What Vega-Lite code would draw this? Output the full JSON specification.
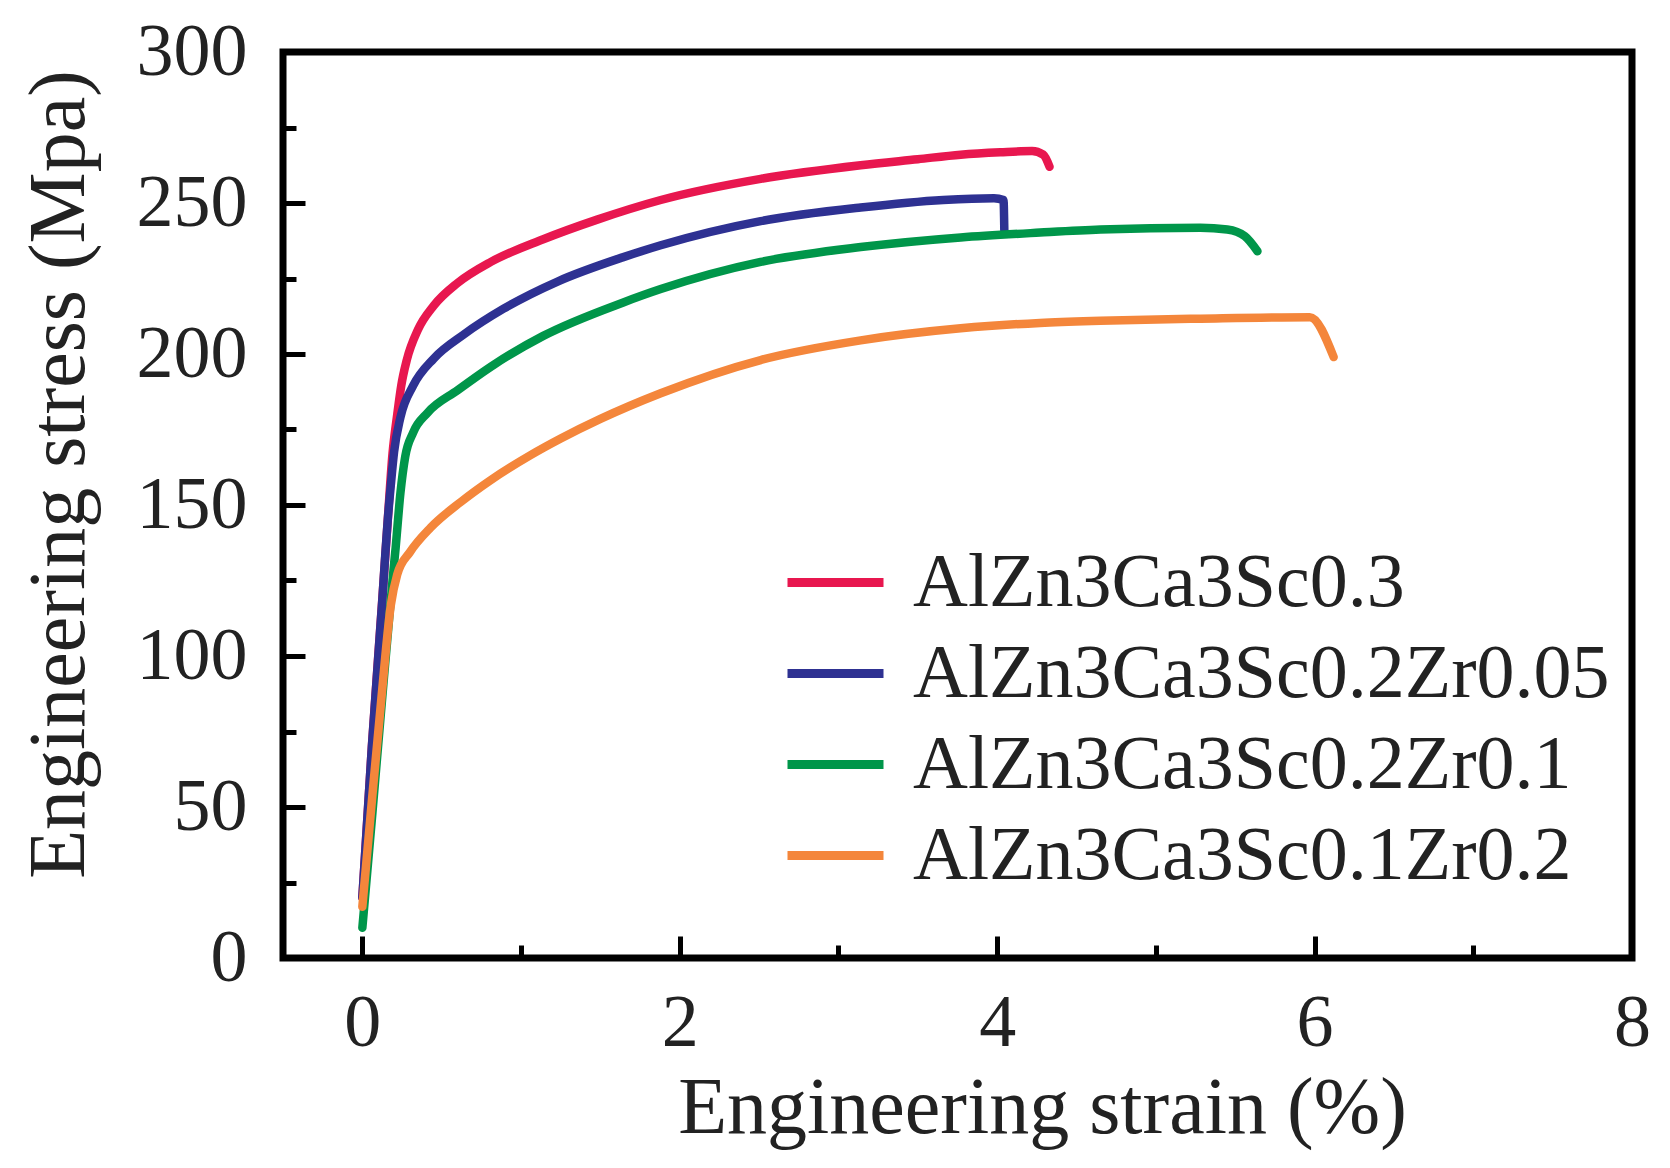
{
  "$schema": "https://vega.github.io/schema/vega-lite/v6.json",
  "width": 1349,
  "height": 906,
  "autosize": {"type": "none"},
  "padding": {"left": 283, "top": 52, "right": 38, "bottom": 210},
  "background": "white",
  "config": {
    "view": {"stroke": "#000000", "strokeWidth": 7},
    "axis": {
      "domain": false,
      "grid": false,
      "tickColor": "#000000",
      "tickWidth": 5,
      "labelFont": "Liberation Serif",
      "labelFontSize": 74,
      "labelColor": "#222222",
      "labelFlush": false,
      "labelOverlap": false,
      "labelBound": false,
      "titleFont": "Liberation Serif",
      "titleFontSize": 80,
      "titleFontWeight": "normal",
      "titleColor": "#222222"
    },
    "legend": {
      "orient": "none",
      "legendX": 500,
      "legendY": 478,
      "padding": 0,
      "symbolType": "stroke",
      "symbolSize": 9216,
      "symbolStrokeWidth": 9,
      "labelFont": "Liberation Serif",
      "labelFontSize": 76,
      "labelColor": "#222222",
      "labelOffset": 25,
      "labelLimit": 0,
      "rowPadding": -12.5
    }
  },
  "data": {
    "values": [
      {"alloy": "AlZn3Ca3Sc0.3", "strain": 0.0, "stress": 20},
      {"alloy": "AlZn3Ca3Sc0.3", "strain": 0.06, "stress": 70},
      {"alloy": "AlZn3Ca3Sc0.3", "strain": 0.126, "stress": 119},
      {"alloy": "AlZn3Ca3Sc0.3", "strain": 0.16, "stress": 145},
      {"alloy": "AlZn3Ca3Sc0.3", "strain": 0.19, "stress": 167},
      {"alloy": "AlZn3Ca3Sc0.3", "strain": 0.22, "stress": 180},
      {"alloy": "AlZn3Ca3Sc0.3", "strain": 0.245, "stress": 189.5},
      {"alloy": "AlZn3Ca3Sc0.3", "strain": 0.28, "stress": 198},
      {"alloy": "AlZn3Ca3Sc0.3", "strain": 0.35, "stress": 208},
      {"alloy": "AlZn3Ca3Sc0.3", "strain": 0.45, "stress": 216},
      {"alloy": "AlZn3Ca3Sc0.3", "strain": 0.6, "stress": 223.5},
      {"alloy": "AlZn3Ca3Sc0.3", "strain": 0.81, "stress": 230.5},
      {"alloy": "AlZn3Ca3Sc0.3", "strain": 1.14, "stress": 238},
      {"alloy": "AlZn3Ca3Sc0.3", "strain": 1.48, "stress": 244.5},
      {"alloy": "AlZn3Ca3Sc0.3", "strain": 1.88, "stress": 251},
      {"alloy": "AlZn3Ca3Sc0.3", "strain": 2.51, "stress": 258},
      {"alloy": "AlZn3Ca3Sc0.3", "strain": 3.14, "stress": 262.5},
      {"alloy": "AlZn3Ca3Sc0.3", "strain": 3.5, "stress": 264.5},
      {"alloy": "AlZn3Ca3Sc0.3", "strain": 3.77, "stress": 266},
      {"alloy": "AlZn3Ca3Sc0.3", "strain": 4.02, "stress": 266.8},
      {"alloy": "AlZn3Ca3Sc0.3", "strain": 4.22, "stress": 267.2},
      {"alloy": "AlZn3Ca3Sc0.3", "strain": 4.29, "stress": 266},
      {"alloy": "AlZn3Ca3Sc0.3", "strain": 4.33, "stress": 262},
      {"alloy": "AlZn3Ca3Sc0.2Zr0.05", "strain": 0.0, "stress": 20},
      {"alloy": "AlZn3Ca3Sc0.2Zr0.05", "strain": 0.06, "stress": 70},
      {"alloy": "AlZn3Ca3Sc0.2Zr0.05", "strain": 0.126, "stress": 118.8},
      {"alloy": "AlZn3Ca3Sc0.2Zr0.05", "strain": 0.145, "stress": 134},
      {"alloy": "AlZn3Ca3Sc0.2Zr0.05", "strain": 0.16, "stress": 145},
      {"alloy": "AlZn3Ca3Sc0.2Zr0.05", "strain": 0.18, "stress": 157},
      {"alloy": "AlZn3Ca3Sc0.2Zr0.05", "strain": 0.2, "stress": 167.6},
      {"alloy": "AlZn3Ca3Sc0.2Zr0.05", "strain": 0.24, "stress": 179},
      {"alloy": "AlZn3Ca3Sc0.2Zr0.05", "strain": 0.32, "stress": 189.5},
      {"alloy": "AlZn3Ca3Sc0.2Zr0.05", "strain": 0.45, "stress": 198.5},
      {"alloy": "AlZn3Ca3Sc0.2Zr0.05", "strain": 0.64, "stress": 206.5},
      {"alloy": "AlZn3Ca3Sc0.2Zr0.05", "strain": 0.89, "stress": 215},
      {"alloy": "AlZn3Ca3Sc0.2Zr0.05", "strain": 1.23, "stress": 224},
      {"alloy": "AlZn3Ca3Sc0.2Zr0.05", "strain": 1.64, "stress": 232},
      {"alloy": "AlZn3Ca3Sc0.2Zr0.05", "strain": 1.88, "stress": 236},
      {"alloy": "AlZn3Ca3Sc0.2Zr0.05", "strain": 2.51, "stress": 244},
      {"alloy": "AlZn3Ca3Sc0.2Zr0.05", "strain": 3.14, "stress": 248.5},
      {"alloy": "AlZn3Ca3Sc0.2Zr0.05", "strain": 3.66, "stress": 251},
      {"alloy": "AlZn3Ca3Sc0.2Zr0.05", "strain": 3.98, "stress": 251.6},
      {"alloy": "AlZn3Ca3Sc0.2Zr0.05", "strain": 4.04, "stress": 251},
      {"alloy": "AlZn3Ca3Sc0.2Zr0.05", "strain": 4.045, "stress": 241},
      {"alloy": "AlZn3Ca3Sc0.2Zr0.1", "strain": 0.0, "stress": 10},
      {"alloy": "AlZn3Ca3Sc0.2Zr0.1", "strain": 0.06, "stress": 46},
      {"alloy": "AlZn3Ca3Sc0.2Zr0.1", "strain": 0.12, "stress": 83},
      {"alloy": "AlZn3Ca3Sc0.2Zr0.1", "strain": 0.19, "stress": 125},
      {"alloy": "AlZn3Ca3Sc0.2Zr0.1", "strain": 0.21, "stress": 136},
      {"alloy": "AlZn3Ca3Sc0.2Zr0.1", "strain": 0.24, "stress": 154},
      {"alloy": "AlZn3Ca3Sc0.2Zr0.1", "strain": 0.27, "stress": 166},
      {"alloy": "AlZn3Ca3Sc0.2Zr0.1", "strain": 0.32, "stress": 174},
      {"alloy": "AlZn3Ca3Sc0.2Zr0.1", "strain": 0.41, "stress": 180.5},
      {"alloy": "AlZn3Ca3Sc0.2Zr0.1", "strain": 0.6, "stress": 188},
      {"alloy": "AlZn3Ca3Sc0.2Zr0.1", "strain": 0.83, "stress": 196.5},
      {"alloy": "AlZn3Ca3Sc0.2Zr0.1", "strain": 1.14, "stress": 206},
      {"alloy": "AlZn3Ca3Sc0.2Zr0.1", "strain": 1.64, "stress": 217},
      {"alloy": "AlZn3Ca3Sc0.2Zr0.1", "strain": 1.88, "stress": 221.5},
      {"alloy": "AlZn3Ca3Sc0.2Zr0.1", "strain": 2.51, "stress": 230.5},
      {"alloy": "AlZn3Ca3Sc0.2Zr0.1", "strain": 3.14, "stress": 235.4},
      {"alloy": "AlZn3Ca3Sc0.2Zr0.1", "strain": 3.77, "stress": 238.6},
      {"alloy": "AlZn3Ca3Sc0.2Zr0.1", "strain": 4.27, "stress": 240.2},
      {"alloy": "AlZn3Ca3Sc0.2Zr0.1", "strain": 4.65, "stress": 241.2},
      {"alloy": "AlZn3Ca3Sc0.2Zr0.1", "strain": 5.28, "stress": 241.8},
      {"alloy": "AlZn3Ca3Sc0.2Zr0.1", "strain": 5.45, "stress": 241.2},
      {"alloy": "AlZn3Ca3Sc0.2Zr0.1", "strain": 5.56, "stress": 239},
      {"alloy": "AlZn3Ca3Sc0.2Zr0.1", "strain": 5.64, "stress": 234},
      {"alloy": "AlZn3Ca3Sc0.1Zr0.2", "strain": 0.0, "stress": 17},
      {"alloy": "AlZn3Ca3Sc0.1Zr0.2", "strain": 0.06, "stress": 52},
      {"alloy": "AlZn3Ca3Sc0.1Zr0.2", "strain": 0.12, "stress": 86},
      {"alloy": "AlZn3Ca3Sc0.1Zr0.2", "strain": 0.18, "stress": 117},
      {"alloy": "AlZn3Ca3Sc0.1Zr0.2", "strain": 0.22, "stress": 127},
      {"alloy": "AlZn3Ca3Sc0.1Zr0.2", "strain": 0.3, "stress": 134.4},
      {"alloy": "AlZn3Ca3Sc0.1Zr0.2", "strain": 0.43, "stress": 142.5},
      {"alloy": "AlZn3Ca3Sc0.1Zr0.2", "strain": 0.62, "stress": 151},
      {"alloy": "AlZn3Ca3Sc0.1Zr0.2", "strain": 0.81, "stress": 158.3},
      {"alloy": "AlZn3Ca3Sc0.1Zr0.2", "strain": 1.06, "stress": 166.5},
      {"alloy": "AlZn3Ca3Sc0.1Zr0.2", "strain": 1.25, "stress": 172},
      {"alloy": "AlZn3Ca3Sc0.1Zr0.2", "strain": 1.5, "stress": 178.5},
      {"alloy": "AlZn3Ca3Sc0.1Zr0.2", "strain": 1.88, "stress": 187},
      {"alloy": "AlZn3Ca3Sc0.1Zr0.2", "strain": 2.51, "stress": 198},
      {"alloy": "AlZn3Ca3Sc0.1Zr0.2", "strain": 3.14, "stress": 204.5},
      {"alloy": "AlZn3Ca3Sc0.1Zr0.2", "strain": 3.77, "stress": 208.5},
      {"alloy": "AlZn3Ca3Sc0.1Zr0.2", "strain": 4.27, "stress": 210.3},
      {"alloy": "AlZn3Ca3Sc0.1Zr0.2", "strain": 4.65, "stress": 211},
      {"alloy": "AlZn3Ca3Sc0.1Zr0.2", "strain": 5.28, "stress": 211.7},
      {"alloy": "AlZn3Ca3Sc0.1Zr0.2", "strain": 5.97, "stress": 212.2},
      {"alloy": "AlZn3Ca3Sc0.1Zr0.2", "strain": 6.12, "stress": 199}
    ]
  },
  "layer": [
    {
      "mark": {"type": "line", "interpolate": "monotone", "strokeWidth": 8.5, "strokeCap": "round", "strokeJoin": "round"},
      "encoding": {
        "x": {
          "field": "strain",
          "type": "quantitative",
          "scale": {"domain": [-0.5, 8], "nice": false, "zero": false},
          "axis": {
            "orient": "bottom",
            "values": [0, 2, 4, 6, 8],
            "tickSize": -22,
            "labelPadding": 51,
            "title": "Engineering strain (%)",
            "titleX": 759,
            "titleY": 174,
            "titleBaseline": "alphabetic"
          }
        },
        "y": {
          "field": "stress",
          "type": "quantitative",
          "scale": {"domain": [0, 300], "nice": false},
          "axis": {
            "orient": "left",
            "values": [0, 50, 100, 150, 200, 250, 300],
            "tickSize": -22,
            "labelPadding": 58,
            "title": "Engineering stress (Mpa)",
            "titleAngle": 270,
            "titleX": -200,
            "titleY": 422,
            "titleBaseline": "alphabetic"
          }
        },
        "color": {
          "field": "alloy",
          "type": "nominal",
          "sort": null,
          "scale": {
            "domain": ["AlZn3Ca3Sc0.3", "AlZn3Ca3Sc0.2Zr0.05", "AlZn3Ca3Sc0.2Zr0.1", "AlZn3Ca3Sc0.1Zr0.2"],
            "range": ["#E8174F", "#2E3192", "#00964A", "#F4863B"]
          },
          "legend": {"title": null}
        },
        "order": {"field": "strain", "type": "quantitative"}
      }
    },
    {
      "mark": {"type": "point", "opacity": 0},
      "encoding": {
        "x": {
          "field": "strain",
          "type": "quantitative",
          "scale": {"domain": [-0.5, 8], "nice": false, "zero": false},
          "axis": {
            "orient": "bottom",
            "values": [1, 3, 5, 7],
            "tickSize": -13,
            "labels": false,
            "title": null
          }
        },
        "y": {
          "field": "stress",
          "type": "quantitative",
          "scale": {"domain": [0, 300], "nice": false},
          "axis": {
            "orient": "left",
            "values": [25, 75, 125, 175, 225, 275],
            "tickSize": -13,
            "labels": false,
            "title": null
          }
        }
      }
    }
  ],
  "resolve": {"axis": {"x": "independent", "y": "independent"}}
}
